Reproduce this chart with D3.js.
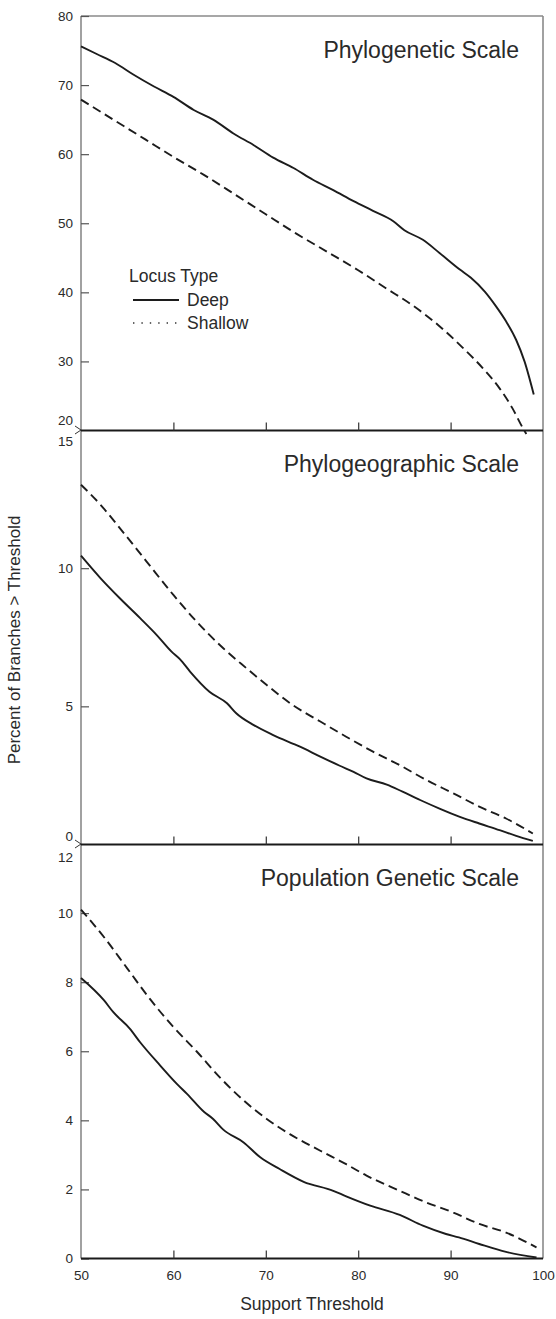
<!DOCTYPE html>
<html><head><meta charset="utf-8">
<script src="https://cdn.jsdelivr.net/npm/d3@7"></script>
<style>
body{margin:0;background:#fff;}
text{font-family:"Liberation Sans",Arial,sans-serif;fill:#2a2a2a;}
</style></head>
<body><svg id="c" width="556" height="1319"></svg>
<script>
// ---- data ----
const panelTitles = ["Phylogenetic Scale", "Phylogeographic Scale", "Population Genetic Scale"];
const xTicks = [50, 60, 70, 80, 90, 100];
const phyloTicks = [30, 40, 50, 60, 70, 80];
const geoTicks = [5, 10];
const popTicks = [0, 2, 4, 6, 8, 10];
const phyloDomain = [20, 80];
const geoDomain = [0, 15];
const popDomain = [0, 12];
const legendLabels = ["Deep", "Shallow"];

const phyloDeep = [[50,75.6],[51.7,74.5],[53.7,73.2],[55.7,71.5],[57.9,69.8],[60,68.3],[62.2,66.4],[64.3,65.0],[66.5,63.0],[68.7,61.3],[70.8,59.5],[73,58.0],[75.1,56.3],[77.3,54.8],[79.5,53.2],[81.6,51.8],[83.8,50.3],[85,49.0],[87,47.6],[88.8,45.7],[91,43.3],[92.2,42.1],[93.7,40.1],[94.9,38.0],[96,35.8],[97.1,33.1],[98,30.0],[99,25.2]];
const phyloShallow = [[50,67.9],[53.5,65.0],[57,62.1],[60,59.6],[63.3,57.0],[66.5,54.3],[70,51.3],[73.3,48.5],[76.6,45.9],[80,43.2],[83,40.6],[85.9,38.1],[88.8,35.1],[91.3,32.0],[93.5,29.0],[95.3,26.1],[96.7,23.2],[97.8,20.4],[98.2,19.5]];
const geoDeep = [[50,10.45],[52.1,9.64],[54.2,8.91],[56.4,8.19],[58.2,7.58],[59.8,6.98],[60.7,6.71],[61.8,6.26],[63.9,5.53],[65.8,5.11],[66.8,4.75],[68.7,4.32],[70.8,3.96],[73.7,3.54],[75.9,3.18],[78,2.85],[79.5,2.63],[80.9,2.39],[83.1,2.17],[84.8,1.91],[86.7,1.61],[88.8,1.30],[91,1.00],[93.1,0.76],[95.3,0.52],[97.1,0.31],[98.9,0.13]];
const geoShallow = [[50,13.02],[52.1,12.3],[54.2,11.45],[57.1,10.24],[60,9.03],[62.5,8.07],[65.4,7.10],[67.9,6.38],[70.1,5.77],[72.9,5.05],[75.9,4.45],[78.7,3.90],[81.6,3.36],[84.5,2.87],[87.4,2.33],[90.3,1.85],[93.1,1.37],[96,0.94],[98.9,0.40]];
const popDeep = [[50,8.12],[52.5,7.47],[53.5,7.13],[55.3,6.65],[56.4,6.26],[58.6,5.58],[60.4,5.05],[61.5,4.76],[63.3,4.25],[64.3,4.04],[65.4,3.73],[67.6,3.36],[69.4,2.93],[71.5,2.59],[74.1,2.22],[77.3,1.96],[78.7,1.80],[81.3,1.53],[84.5,1.26],[87,0.95],[89.5,0.71],[90.9,0.61],[93.1,0.42],[96,0.19],[99.3,0.03]];
const popShallow = [[50,10.1],[52.5,9.3],[55,8.4],[57.5,7.5],[60,6.7],[62.5,6.0],[65,5.25],[67.5,4.6],[70.1,4.04],[72.6,3.60],[75.9,3.12],[78.7,2.73],[80.9,2.40],[84.5,1.96],[87.4,1.62],[90.3,1.33],[93.1,1.00],[96,0.75],[99.3,0.32]];

// ---- layout ----
const L = 81, R = 543;
const panelTop = [16, 430, 844];
const panelH = 414.5;
const svg = d3.select("#c");
const x = d3.scaleLinear().domain([50, 100]).range([L, R]);

const panels = [
  {domain: phyloDomain, ticks: phyloTicks, deep: phyloDeep, shallow: phyloShallow},
  {domain: geoDomain, ticks: geoTicks, deep: geoDeep, shallow: geoShallow},
  {domain: popDomain, ticks: popTicks, deep: popDeep, shallow: popShallow}
];

const grey = "#8a8a8a";
svg.append("line").attr("x1", L).attr("x2", L).attr("y1", panelTop[0]).attr("y2", panelTop[2] + panelH).attr("stroke", grey).attr("stroke-width", 1.6);
svg.append("line").attr("x1", R).attr("x2", R).attr("y1", panelTop[0]).attr("y2", panelTop[2] + panelH).attr("stroke", grey).attr("stroke-width", 1.6);
svg.append("line").attr("x1", L).attr("x2", R).attr("y1", panelTop[0]).attr("y2", panelTop[0]).attr("stroke", grey).attr("stroke-width", 1.6);

panels.forEach((p, i) => {
  const top = panelTop[i], bot = top + panelH;
  const y = d3.scaleLinear().domain(p.domain).range([bot, top]);
  const ya = d3.axisLeft(y).tickValues(p.ticks).tickSize(-8).tickPadding(8).tickFormat(d3.format("d"));
  const g = svg.append("g").attr("transform", `translate(${L},0)`).call(ya);
  g.select(".domain").remove();
  g.selectAll(".tick line").attr("stroke", "#555").attr("stroke-width", 1.2);
  g.selectAll(".tick text").style("font-size", "13.5px").attr("fill", "#2a2a2a").style("font-family", "Liberation Sans, Arial, sans-serif");
  const xa = d3.axisBottom(x).tickValues(xTicks).tickSize(-8).tickFormat(i === 2 ? d3.format("d") : () => "").tickPadding(12);
  const gx = svg.append("g").attr("transform", `translate(0,${bot})`).call(xa);
  gx.select(".domain").attr("stroke", "#1a1a1a").attr("stroke-width", 2.2).attr("d", `M${L},0H${R}`);
  gx.selectAll(".tick line").attr("stroke", "#333").attr("stroke-width", 1.2);
  gx.selectAll(".tick").filter(d => d === 50 || d === 100).select("line").remove();
  gx.selectAll(".tick text").style("font-size", "13.5px").attr("fill", "#2a2a2a").style("font-family", "Liberation Sans, Arial, sans-serif");

  const line = d3.line().x(d => x(d[0])).y(d => y(d[1])).curve(d3.curveMonotoneX);
  svg.append("path").datum(p.deep).attr("d", line).attr("fill", "none").attr("stroke", "#1c1c1c").attr("stroke-width", 1.9);
  svg.append("path").datum(p.shallow).attr("d", line).attr("fill", "none").attr("stroke", "#1c1c1c").attr("stroke-width", 1.9).attr("stroke-dasharray", "9,5");

  svg.append("text").attr("x", 519).attr("y", top + 42).attr("text-anchor", "end").style("font-size", "23px").text(panelTitles[i]);
});

[panelTop[1], panelTop[2]].forEach(yy => {
  svg.append("path").attr("d", `M${L - 6},${yy - 4}L${L},${yy}L${L - 6},${yy + 4}`).attr("fill", "none").attr("stroke", "#333").attr("stroke-width", 1);
});
const splitLabels = [
  {v: phyloDomain[0], y: panelTop[1] - 9},
  {v: geoDomain[1], y: panelTop[1] + 12},
  {v: geoDomain[0], y: panelTop[2] - 7},
  {v: popDomain[1], y: panelTop[2] + 14}
];
splitLabels.forEach(s => {
  svg.append("text").attr("x", 73).attr("y", s.y).attr("dy", "0.32em").attr("text-anchor", "end").style("font-size", "13.5px").text(s.v);
});

const lg = svg.append("g");
lg.append("text").attr("x", 129).attr("y", 282).style("font-size", "17.5px").text("Locus Type");
lg.append("line").attr("x1", 133).attr("x2", 179).attr("y1", 300).attr("y2", 300).attr("stroke", "#1c1c1c").attr("stroke-width", 1.9);
lg.append("line").attr("x1", 133).attr("x2", 179).attr("y1", 323).attr("y2", 323).attr("stroke", "#333").attr("stroke-width", 1.4).attr("stroke-dasharray", "1.4,7");
lg.append("text").attr("x", 187).attr("y", 306).style("font-size", "17.5px").text(legendLabels[0]);
lg.append("text").attr("x", 187).attr("y", 329).style("font-size", "17.5px").text(legendLabels[1]);

svg.append("text").attr("x", (L + R) / 2).attr("y", 1310).attr("text-anchor", "middle").style("font-size", "17.5px").text("Support Threshold");
svg.append("text").attr("transform", "translate(20,640) rotate(-90)").attr("text-anchor", "middle").style("font-size", "17px").text("Percent of Branches > Threshold");
</script></body></html>
